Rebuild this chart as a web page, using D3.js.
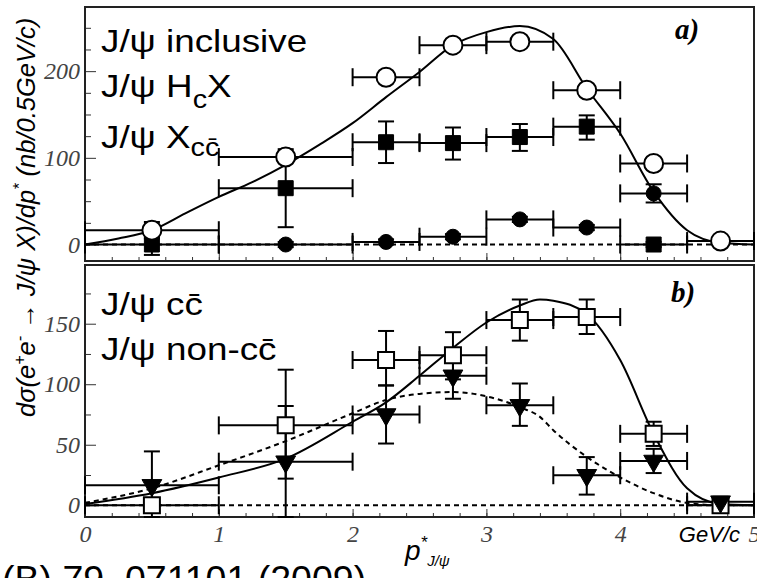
<!DOCTYPE html>
<html>
<head>
<meta charset="utf-8">
<script src="https://cdn.jsdelivr.net/npm/d3@7"></script>
<style>
  body { margin: 0; background: #fff; }
  svg { display: block; }
</style>
</head>
<body>
<svg id="chart" width="757" height="578"></svg>
<script>
// bins in p* (GeV/c)
const binCenter = [0.5, 1.5, 2.25, 2.75, 3.25, 3.75, 4.25, 4.75];
const binHalf = [0.5, 0.5, 0.25, 0.25, 0.25, 0.25, 0.25, 0.25];

// panel a) - J/psi inclusive (open circles)
const inclVal = [16.5, 101, 193, 230, 234, 178, 93.5, 4];
const inclLo = [9.5, 6, 6, 6, 6, 6, 6, 4];
const inclHi = [9.5, 6, 6, 6, 6, 6, 6, 4];
// J/psi H_c X (filled squares)
const hcxVal = [0, 65, 118, 117, 124, 136, 0, null];
const hcxLo = [12, 45, 24, 19, 16, 15, 3, null];
const hcxHi = [12, 45, 24, 18, 15, 13, 3, null];
// J/psi X_cc (filled circles)
const xccVal = [null, 0, 3, 9, 29, 19.6, 59, null];
const xccErr = [null, 3, 3, 3, 3, 3, 10.5, null];
// fit curve for inclusive
const fitAx = [0, 0.25, 0.5, 0.75, 1, 1.25, 1.5, 1.75, 2, 2.25, 2.5, 2.75, 3, 3.25, 3.5, 3.75, 4, 4.25, 4.5, 4.75, 5];
const fitAy = [0, 7, 16.5, 36, 55, 72, 92, 115, 140, 170, 199, 230, 245, 252, 237, 180, 128, 61, 16.5, 2, 0];

// panel b) - J/psi cc (open squares)
const ccVal = [0, 66, 120, 124, 153, 155.5, 59, 0];
const ccLo = [4, 44, 21, 20, 17, 14, 10, 4];
const ccHi = [4, 16, 24, 19, 17, 14.5, 10, 4];
// J/psi non-cc (filled down triangles)
const nonVal = [16.5, 36, 75, 107, 82.6, 24.8, 36.6, 3];
const nonLo = [28, 76, 24, 19, 17, 16, 10, 4];
const nonHi = [28, 76, 24, 19, 18, 15, 10, 4];
// fit curves
const fitBx = [0, 0.5, 1, 1.5, 2, 2.25, 2.5, 2.75, 3, 3.25, 3.4, 3.5, 3.75, 4, 4.25, 4.5, 4.75, 5];
const fitCcY = [1, 10, 23, 38.5, 69, 85, 107, 130, 151, 165, 170, 169, 158, 120, 59, 14, 1, 0];
const fitNonY = [2, 14, 33, 53, 76, 87, 92, 93.5, 90, 81, 73, 62, 40, 23, 10, 2, 0, 0];

// axes
const xMajor = [0, 1, 2, 3, 4, 5];
const xLabels = ['0', '1', '2', '3', '4', '5'];
const yMajorA = [0, 100, 200];
const yMinorA = [25, 50, 75, 125, 150, 175, 225, 250];
const yMajorB = [0, 50, 100, 150];
const yMinorB = [25, 75, 125, 175];

const svg = d3.select('#chart');

const x = d3.scaleLinear().domain([0, 5]).range([85, 754]);
const yA = d3.scaleLinear().domain([-19, 274]).range([261, 7]).clamp(true);
const yB = d3.scaleLinear().domain([-9.7, 198.5]).range([517, 265]).clamp(true);

const sansFont = '"Liberation Sans", Arial, sans-serif';
const serifFont = '"Liberation Serif", "Times New Roman", serif';

function drawAxes(y, yMajor, yMinor, withLabels) {
  const top = y.range()[1];
  const bottom = y.range()[0];

  // minor ticks
  svg.append('g')
    .attr('transform', `translate(0,${bottom})`)
    .call(d3.axisBottom(x).tickValues(d3.range(0, 5.001, 0.2)).tickSize(-4).tickFormat(''))
    .call(g => g.select('.domain').remove());
  svg.append('g')
    .attr('transform', `translate(${x(0)},0)`)
    .call(d3.axisLeft(y).tickValues(yMinor).tickSize(-6).tickFormat(''))
    .call(g => g.select('.domain').remove());

  // major ticks
  const xa = svg.append('g')
    .attr('transform', `translate(0,${bottom})`)
    .call(d3.axisBottom(x).tickValues(xMajor).tickSize(-8).tickPadding(8)
      .tickFormat((d, i) => withLabels ? xLabels[i] : ''))
    .call(g => g.select('.domain').remove());
  const ya = svg.append('g')
    .attr('transform', `translate(${x(0)},0)`)
    .call(d3.axisLeft(y).tickValues(yMajor).tickSize(-11).tickPadding(5))
    .call(g => g.select('.domain').remove());

  [xa, ya].forEach(g => {
    g.selectAll('text')
      .attr('font-family', serifFont)
      .attr('font-style', 'italic')
      .attr('font-size', 24)
      .attr('fill', '#444');
  });
  svg.selectAll('.tick line').attr('stroke', '#333');

  // frame
  svg.append('rect')
    .attr('x', x(0))
    .attr('y', top)
    .attr('width', x(5) - x(0))
    .attr('height', bottom - top)
    .attr('fill', 'none')
    .attr('stroke', '#222')
    .attr('stroke-width', 2);
}

function drawCurve(y, xs, ys, dashed) {
  svg.append('path')
    .datum(xs.map((d, i) => [d, ys[i]]))
    .attr('fill', 'none')
    .attr('stroke', '#000')
    .attr('stroke-width', 2)
    .attr('stroke-dasharray', dashed ? '5,4' : null)
    .attr('d', d3.line().x(d => x(d[0])).y(d => y(d[1])).curve(d3.curveMonotoneX));
}

function drawZeroLine(y) {
  svg.append('line')
    .attr('x1', x(0)).attr('x2', x(5))
    .attr('y1', y(0)).attr('y2', y(0))
    .attr('stroke', '#000')
    .attr('stroke-width', 2)
    .attr('stroke-dasharray', '5,4');
}

function drawErrors(y, vals, lo, hi) {
  const g = svg.append('g').attr('stroke', '#000').attr('stroke-width', 2);
  vals.forEach((v, i) => {
    if (v === null) return;
    const cx = x(binCenter[i]);
    const cy = y(v);
    const xl = x(binCenter[i] - binHalf[i]);
    const xr = x(binCenter[i] + binHalf[i]);
    const yt = y(v + hi[i]);
    const yb = y(v - lo[i]);
    g.append('line').attr('x1', xl).attr('x2', xr).attr('y1', cy).attr('y2', cy);
    g.append('line').attr('x1', xl).attr('x2', xl).attr('y1', cy - 9).attr('y2', cy + 9);
    g.append('line').attr('x1', xr).attr('x2', xr).attr('y1', cy - 9).attr('y2', cy + 9);
    g.append('line').attr('x1', cx).attr('x2', cx).attr('y1', yt).attr('y2', yb);
    g.append('line').attr('x1', cx - 8).attr('x2', cx + 8).attr('y1', yt).attr('y2', yt);
    g.append('line').attr('x1', cx - 8).attr('x2', cx + 8).attr('y1', yb).attr('y2', yb);
  });
}

function drawMarkers(y, vals, type, size, filled, rotate) {
  svg.append('g')
    .selectAll('path')
    .data(vals.map((v, i) => ({ v, c: binCenter[i] })).filter(d => d.v !== null))
    .join('path')
    .attr('transform', d => `translate(${x(d.c)},${y(d.v)})${rotate ? ' rotate(180)' : ''}`)
    .attr('d', d3.symbol().type(type).size(size))
    .attr('fill', filled ? '#000' : '#fff')
    .attr('stroke', '#000')
    .attr('stroke-width', filled ? 1 : 2);
}

// ---- panel a)
drawAxes(yA, yMajorA, yMinorA, false);
drawZeroLine(yA);
drawCurve(yA, fitAx, fitAy, false);
drawErrors(yA, xccVal, xccErr, xccErr);
drawErrors(yA, hcxVal, hcxLo, hcxHi);
drawErrors(yA, inclVal, inclLo, inclHi);
drawMarkers(yA, xccVal, d3.symbolCircle, Math.PI * 7.5 * 7.5, true);
drawMarkers(yA, hcxVal, d3.symbolSquare, 15 * 15, true);
drawMarkers(yA, inclVal, d3.symbolCircle, Math.PI * 9.5 * 9.5, false);

// ---- panel b)
drawAxes(yB, yMajorB, yMinorB, true);
drawZeroLine(yB);
drawCurve(yB, fitBx, fitNonY, true);
drawCurve(yB, fitBx, fitCcY, false);
drawErrors(yB, nonVal, nonLo, nonHi);
drawErrors(yB, ccVal, ccLo, ccHi);
drawMarkers(yB, ccVal, d3.symbolSquare, 16 * 16, false);
drawMarkers(yB, nonVal, d3.symbolTriangle, 170, true, true);

// ---- legends (text only), slightly widened like the original
function legendLine(yPos, parts) {
  const t = svg.append('text')
    .attr('transform', `translate(101,${yPos}) scale(1.15,1)`)
    .attr('font-family', sansFont)
    .attr('font-size', 32)
    .attr('fill', '#000');
  parts.forEach(p => {
    t.append('tspan')
      .attr('dy', p.dy || 0)
      .attr('font-size', p.size || null)
      .text(p.t);
  });
}
legendLine(52, [{ t: 'J/ψ inclusive' }]);
legendLine(97, [{ t: 'J/ψ H' }, { t: 'c', dy: 11, size: 25 }, { t: 'X', dy: -11 }]);
legendLine(148, [{ t: 'J/ψ X' }, { t: 'cc\u0304', dy: 8, size: 25 }]);
legendLine(315, [{ t: 'J/ψ cc\u0304' }]);
legendLine(360, [{ t: 'J/ψ non-cc\u0304' }]);

// panel tags
[['a)', 675, 39], ['b)', 671, 302]].forEach(d => {
  svg.append('text')
    .attr('x', d[1]).attr('y', d[2])
    .attr('font-family', serifFont)
    .attr('font-style', 'italic')
    .attr('font-weight', 'bold')
    .attr('font-size', 29)
    .text(d[0]);
});

// y title
const yt = svg.append('text')
  .attr('transform', 'translate(35,417) rotate(-90)')
  .attr('font-family', sansFont)
  .attr('font-style', 'italic')
  .attr('font-size', 25.5)
  .attr('fill', '#000');
yt.append('tspan').text('dσ(e');
yt.append('tspan').attr('dy', -10).attr('font-size', 16).text('+');
yt.append('tspan').attr('dy', 10).text('e');
yt.append('tspan').attr('dy', -10).attr('font-size', 16).text('-');
yt.append('tspan').attr('dy', 10).attr('font-weight', 'bold').text(' \u2192 ');
yt.append('tspan').text('J/ψ X)/dp');
yt.append('tspan').attr('dy', -10).attr('font-size', 16).text('*');
yt.append('tspan').attr('dy', 10).text(' (nb/0.5GeV/c)');

// x title
const xt = svg.append('text')
  .attr('x', 405).attr('y', 560)
  .attr('font-family', sansFont)
  .attr('font-style', 'italic')
  .attr('font-size', 28)
  .attr('fill', '#000');
xt.append('tspan').text('p');
xt.append('tspan').attr('dy', -12).attr('font-size', 17).text('*');
xt.append('tspan').attr('dy', 18).attr('font-size', 15).text('J/ψ');

svg.append('text')
  .attr('x', 740).attr('y', 542)
  .attr('text-anchor', 'end')
  .attr('font-family', sansFont)
  .attr('font-style', 'italic')
  .attr('font-size', 22)
  .text('GeV/c');

// reference note (cut at the page edge)
svg.append('text')
  .attr('x', 2).attr('y', 592)
  .attr('font-family', sansFont)
  .attr('font-size', 37.5)
  .text('(B) 79, 071101 (2009)');
</script>
</body>
</html>
